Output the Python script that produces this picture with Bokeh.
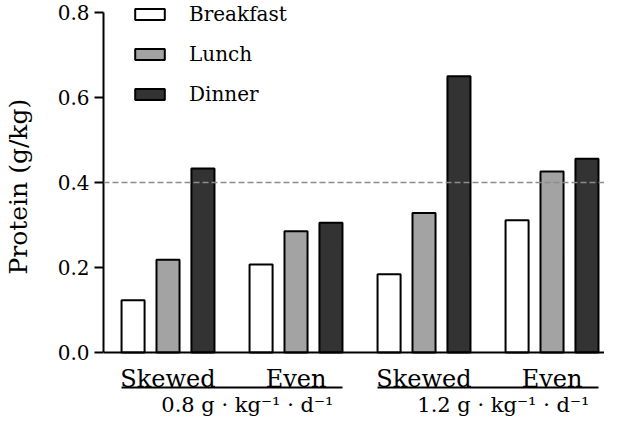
import numpy as np
from bokeh.plotting import figure
from bokeh.models import Range1d, Span, Legend, LegendItem, FixedTicker, NumeralTickFormatter
from bokeh.core.properties import value
from bokeh.embed import file_html
from bokeh.resources import INLINE

# ---- data ----
categories = ["Skewed", "Even", "Skewed", "Even"]
dose_labels = ["0.8 g · kg\u207b\u00b9 · d\u207b\u00b9", "1.2 g · kg\u207b\u00b9 · d\u207b\u00b9"]
meals = ["Breakfast", "Lunch", "Dinner"]
breakfast = [0.123, 0.207, 0.184, 0.311]
lunch = [0.218, 0.285, 0.328, 0.426]
dinner = [0.433, 0.305, 0.650, 0.456]
y_ticks = [0.0, 0.2, 0.4, 0.6, 0.8]
reference_level = 0.4
y_title = "Protein (g/kg)"

FONT = "DejaVu Serif"
colors = ["#ffffff", "#a3a3a3", "#333333"]
offset = 0.273
bar_w = 0.18

p = figure(width=604, height=420, output_backend="svg", toolbar_location=None,
           x_range=Range1d(-0.504, 3.410), y_range=Range1d(-0.16, 0.8282),
           x_axis_location=None, min_border_left=103, min_border_right=0,
           min_border_top=0, min_border_bottom=0)
p.outline_line_color = None
p.grid.visible = False
p.background_fill_color = "white"

x = np.arange(len(categories))
renderers = []
for i, (vals, col) in enumerate(zip([breakfast, lunch, dinner], colors)):
    r = p.vbar(x=x + (i - 1) * offset, top=vals, bottom=0, width=bar_w,
               fill_color=col, line_color="black", line_width=2)
    renderers.append(r)

# reference dashed line and baseline
p.add_layout(Span(location=reference_level, dimension="width", line_color="#8c8c8c",
                  line_width=1.5, line_dash="6 3"))
p.add_layout(Span(location=0, dimension="width", line_color="black", line_width=2))

# y axis
ya = p.yaxis[0]
ya.bounds = (0, 0.8)
ya.ticker = FixedTicker(ticks=y_ticks)
ya.formatter = NumeralTickFormatter(format="0.0")
ya.major_label_text_font = FONT
ya.major_label_text_font_size = "20px"
ya.major_label_text_color = "black"
ya.major_label_standoff = 5
ya.major_tick_out = 9
ya.major_tick_in = 0
ya.minor_tick_line_color = None
ya.axis_line_width = 2
ya.major_tick_line_width = 2
ya.axis_line_color = "black"
ya.major_tick_line_color = "black"
# leading no-break spaces centre the visible title on the 0-0.8 axis span
ya.axis_label = "\u00a0" * 6 + y_title
ya.axis_label_text_font = FONT
ya.axis_label_text_font_size = "25px"
ya.axis_label_text_font_style = "normal"
ya.axis_label_text_color = "black"
ya.axis_label_standoff = 22

# category labels below axis
p.text(x=x, y=[-0.0612] * len(x), text=categories, text_font=value(FONT),
       text_font_size="24px", text_align="center", text_baseline="alphabetic",
       text_color="black")

# group lines and dose labels
pair_start = np.array([0, 2])
half = offset + bar_w / 2
p.segment(x0=pair_start - half, x1=pair_start + 1 + half, y0=[-0.0824] * 2, y1=[-0.0824] * 2,
          line_color="black", line_width=2)
p.text(x=pair_start + 0.5 + 0.12, y=[-0.1224] * 2, text=dose_labels, text_font=value(FONT),
       text_font_size="21px", text_align="center", text_baseline="alphabetic",
       text_color="black")

legend = Legend(items=[LegendItem(label=m, renderers=[r]) for m, r in zip(meals, renderers)],
                location=(28, 314), padding=0, margin=0, spacing=16,
                glyph_width=37, glyph_height=14, label_standoff=21,
                label_text_font=FONT, label_text_font_size="20px", label_text_color="black",
                border_line_color=None, background_fill_alpha=0)
p.add_layout(legend)

open("out.html", "w").write(file_html(p, INLINE))
